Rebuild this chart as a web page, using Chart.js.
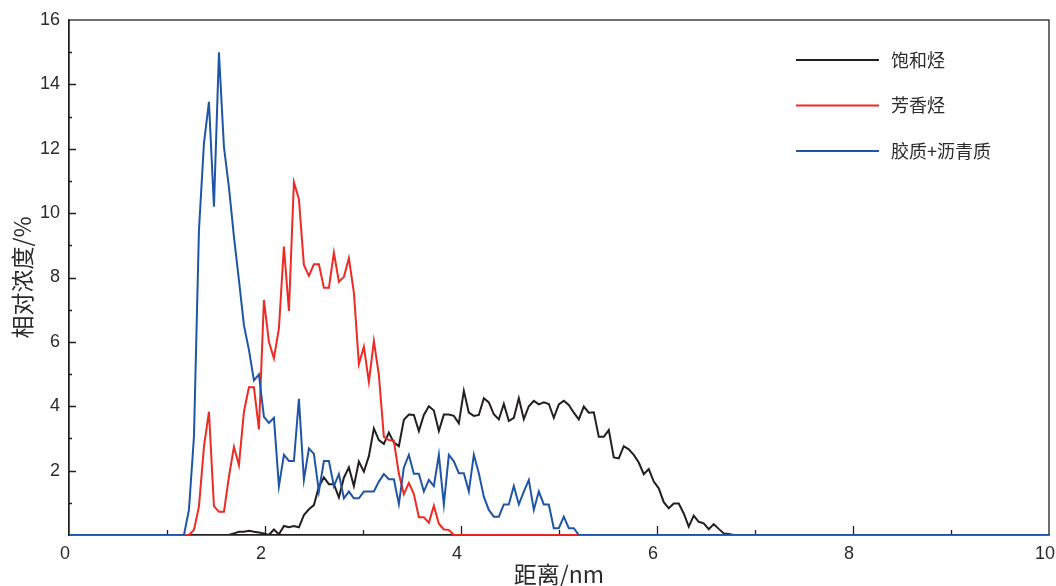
<!DOCTYPE html>
<html lang="zh">
<head>
<meta charset="UTF-8">
<title>相对浓度分布</title>
<script src="https://cdn.jsdelivr.net/npm/chart.js"></script>
<style>
  html, body { margin: 0; padding: 0; background: #fff; }
  #wrap { width: 1056px; height: 586px; }
</style>
</head>
<body>
<div id="wrap"><canvas id="chart"></canvas></div>
<script>
// sampling step along distance (nm); each series starts at a grid index
const step = 0.051;

const seriesNames = ['饱和烃', '芳香烃', '胶质+沥青质'];
const seriesColors = ['#231f20', '#ee2a24', '#1f55a5'];

const saturatesStart = 32;
const saturates = [
  0, 0.05, 0.1, 0.1, 0.13, 0.1, 0.08, 0.05, 0, 0.17,
  0.02, 0.28, 0.24, 0.28, 0.24, 0.62, 0.8, 0.93, 1.5, 1.79,
  1.58, 1.58, 1.17, 1.78, 2.1, 1.52, 2.28, 1.97, 2.45, 3.31,
  2.95, 2.83, 3.18, 2.87, 2.76, 3.58, 3.74, 3.73, 3.23, 3.73,
  4.0, 3.87, 3.23, 3.74, 3.74, 3.7, 3.47, 4.48, 3.8, 3.7,
  3.73, 4.25, 4.12, 3.75, 3.59, 4.07, 3.54, 3.64, 4.25, 3.6,
  4.0, 4.17, 4.06, 4.12, 4.07, 3.64, 4.06, 4.17, 4.04, 3.8,
  3.59, 3.99, 3.8, 3.81, 3.05, 3.05, 3.26, 2.41, 2.38, 2.76,
  2.66, 2.49, 2.25, 1.89, 2.05, 1.66, 1.45, 1.02, 0.83, 0.98,
  0.98, 0.67, 0.26, 0.6, 0.41, 0.36, 0.18, 0.34, 0.19, 0.05,
  0.03, 0
];

const aromaticsStart = 24;
const aromatics = [
  0, 0.16, 0.88, 2.74, 3.83, 0.9, 0.72, 0.72, 1.81, 2.74,
  2.17, 3.83, 4.59, 4.59, 3.28, 7.3, 6.0, 5.49, 6.42, 8.96,
  6.96, 10.96, 10.43, 8.39, 8.05, 8.41, 8.41, 7.68, 7.68, 8.77,
  7.87, 8.02, 8.6, 7.53, 5.31, 5.85, 4.76, 6.03, 4.97, 3.05,
  2.95, 2.93, 1.9, 1.27, 1.62, 1.27, 0.55, 0.55, 0.38, 0.91,
  0.35, 0.17, 0.16, 0
];

const resinsStart = 23;
const resins = [
  0, 0.78, 3.05, 9.47, 12.17, 13.46, 10.2, 15.0, 12.06, 10.8,
  9.27, 7.92, 6.52, 5.75, 4.8, 4.99, 3.67, 3.48, 3.64, 1.51,
  2.49, 2.3, 2.3, 4.23, 1.71, 2.69, 2.52, 1.35, 2.3, 2.3,
  1.52, 1.89, 1.14, 1.35, 1.14, 1.14, 1.35, 1.35, 1.35, 1.66,
  1.89, 1.73, 1.73, 0.96, 2.1, 2.49, 1.9, 1.9, 1.35, 1.71,
  1.52, 2.49, 0.95, 2.49, 2.29, 1.92, 1.92, 1.35, 2.49, 1.92,
  1.19, 0.78, 0.57, 0.57, 0.95, 0.95, 1.52, 0.95, 1.35, 1.71,
  0.78, 1.35, 0.95, 0.95, 0.21, 0.21, 0.57, 0.21, 0.21, 0
];

const xTicks = [0, 2, 4, 6, 8, 10];
const yTicks = [2, 4, 6, 8, 10, 12, 14, 16];

const axisColor = '#231f20';
const textColor = '#2b2b2b';

function toPoints(start, values) {
  const pts = [{ x: 0, y: 0 }];
  values.forEach((v, i) => pts.push({ x: +((start + i) * step).toFixed(3), y: v }));
  pts.push({ x: 10, y: 0 });
  return pts;
}

// box frame + inward tick marks
const frameTicks = {
  id: 'frameTicks',
  beforeDatasetsDraw(chart) {
    const { ctx, chartArea: a, scales: { x, y } } = chart;
    ctx.save();
    ctx.strokeStyle = axisColor;
    ctx.lineWidth = 1.3;
    ctx.strokeRect(a.left, a.top, a.right - a.left, a.bottom - a.top);
    ctx.beginPath();
    for (let v = 1; v < 10; v++) {
      const px = Math.round(x.getPixelForValue(v)) + 0.5;
      const len = v % 2 === 0 ? 9 : 5;
      ctx.moveTo(px, a.bottom);
      ctx.lineTo(px, a.bottom - len);
    }
    for (let v = 1; v < 16; v++) {
      const py = Math.round(y.getPixelForValue(v)) + 0.5;
      const len = v % 2 === 0 ? 7 : 3;
      ctx.moveTo(a.left, py);
      ctx.lineTo(a.left + len, py);
    }
    ctx.stroke();
    ctx.restore();
  }
};

// legend drawn inside the plot, top right
const innerLegend = {
  id: 'innerLegend',
  afterDraw(chart) {
    const { ctx } = chart;
    ctx.save();
    ctx.font = '18px "Noto Sans CJK SC", sans-serif';
    ctx.textBaseline = 'middle';
    chart.data.datasets.forEach((ds, i) => {
      const yy = 60 + i * 45.5;
      ctx.strokeStyle = ds.borderColor;
      ctx.lineWidth = 2;
      ctx.beginPath();
      ctx.moveTo(796, yy);
      ctx.lineTo(879, yy);
      ctx.stroke();
      ctx.fillStyle = textColor;
      ctx.fillText(ds.label, 891, yy);
    });
    ctx.restore();
  }
};

const lineStyle = { borderWidth: 2, pointRadius: 0, tension: 0, fill: false };

new Chart(document.getElementById('chart'), {
  type: 'line',
  data: {
    datasets: [
      { label: seriesNames[0], data: toPoints(saturatesStart, saturates), borderColor: seriesColors[0], order: 2, ...lineStyle },
      { label: seriesNames[1], data: toPoints(aromaticsStart, aromatics), borderColor: seriesColors[1], order: 1, ...lineStyle },
      { label: seriesNames[2], data: toPoints(resinsStart, resins), borderColor: seriesColors[2], order: 0, ...lineStyle }
    ]
  },
  options: {
    responsive: true,
    maintainAspectRatio: false,
    animation: false,
    layout: { padding: { top: 20, right: 7, left: 0, bottom: 0 } },
    plugins: { legend: { display: false }, tooltip: { enabled: false } },
    scales: {
      x: {
        type: 'linear',
        min: 0,
        max: 10,
        afterFit: s => { s.height = 51; s.paddingLeft = 0; s.paddingRight = 0; },
        afterBuildTicks: s => { s.ticks = xTicks.map(v => ({ value: v })); },
        grid: { display: false, drawTicks: false },
        border: { display: true, color: axisColor, width: 1.3 },
        ticks: { padding: 8, labelOffset: -4, color: textColor, font: { family: '"Liberation Sans", Arial', size: 18 } },
        title: {
          display: true,
          text: '距离/nm',
          color: textColor,
          padding: { top: 0, bottom: 0 },
          font: { family: '"Noto Sans CJK SC", sans-serif', size: 23, lineHeight: 1 }
        }
      },
      y: {
        min: 0,
        max: 16,
        afterFit: s => { s.width = 69; s.paddingTop = 0; s.paddingBottom = 0; },
        afterBuildTicks: s => { s.ticks = yTicks.map(v => ({ value: v })); },
        grid: { display: false, drawTicks: false },
        border: { display: true, color: axisColor, width: 1.3 },
        ticks: { padding: 9, color: textColor, font: { family: '"Liberation Sans", Arial', size: 18 } },
        title: {
          display: true,
          text: '相对浓度/%',
          color: textColor,
          padding: { top: 8, bottom: 0 },
          font: { family: '"Noto Sans CJK SC", sans-serif', size: 23, lineHeight: 1.2 }
        }
      }
    }
  },
  plugins: [frameTicks, innerLegend]
});
</script>
</body>
</html>
